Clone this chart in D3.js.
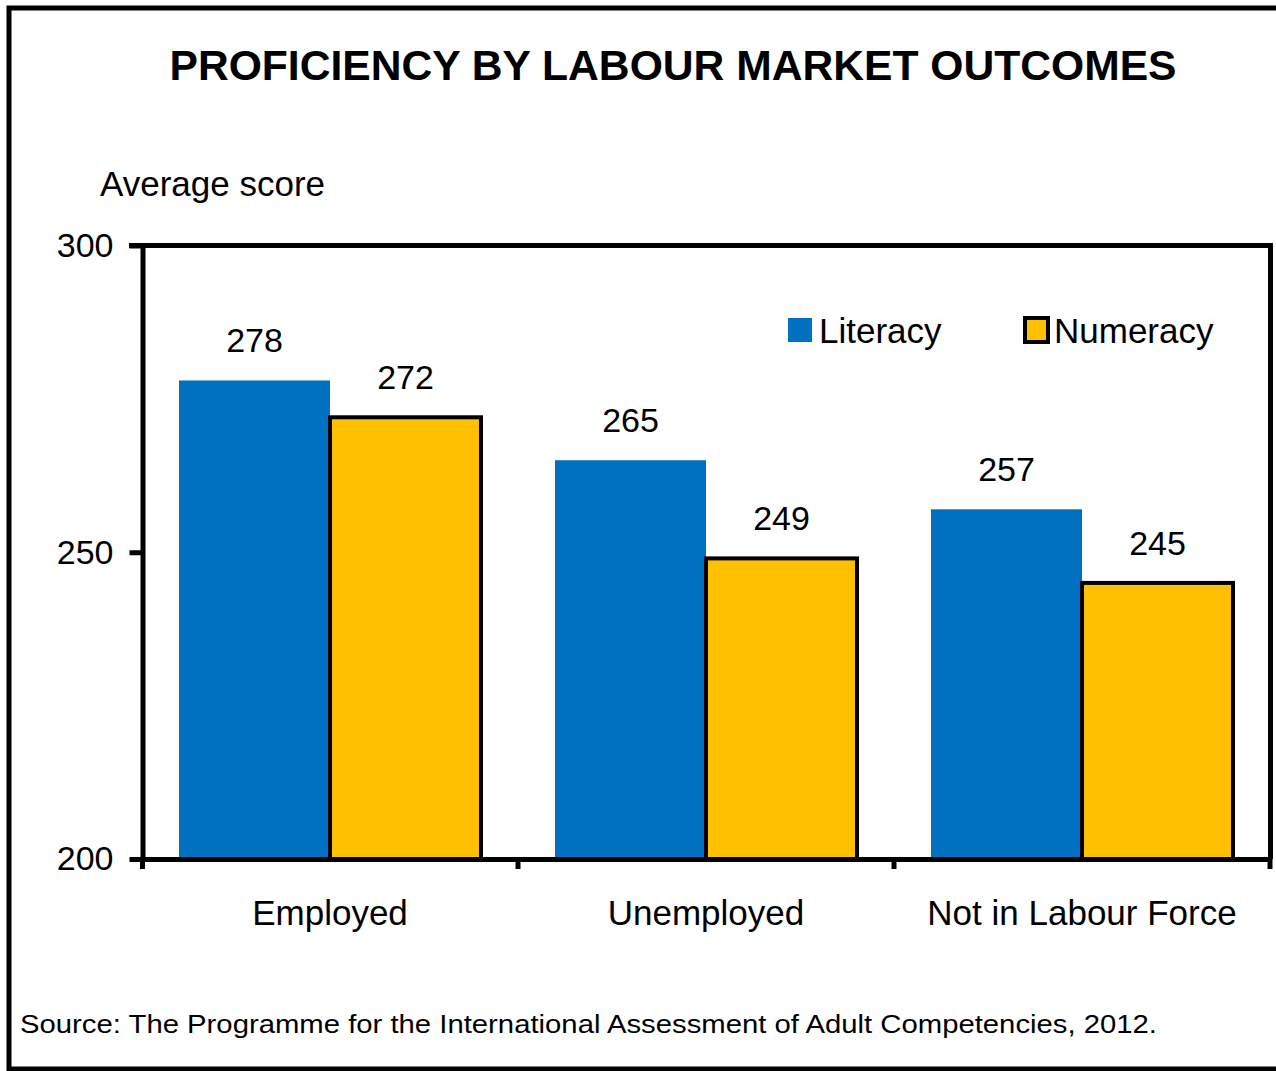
<!DOCTYPE html>
<html lang="en">
<head>
    <meta charset="UTF-8">
    <title>Proficiency by Labour Market Outcomes</title>
    <script src="https://d3js.org/d3.v7.min.js" charset="utf-8"></script>
    <style>
        body { margin: 0; background: #fff; }
        svg { display: block; font-family: 'Liberation Sans', Arial, sans-serif; }
    </style>
</head>
<body>
    <div id="chart"></div>
    <script>

    // data
    var categories = ['Employed', 'Unemployed', 'Not in Labour Force'];
    var seriesNames = ['Literacy', 'Numeracy'];
    var literacy = [278, 265, 257];
    var numeracy = [272, 249, 245];
    var yTicks = [200, 250, 300];

    var seriesColors = { 'Literacy': '#0070C0', 'Numeracy': '#FFC000' };

    var svgWidth = 1276;
    var svgHeight = 1071;

    var svg = d3.select('#chart')
        .append('svg')
        .attr('width', svgWidth)
        .attr('height', svgHeight);

    // outer frame (right edge falls off the picture)
    svg.append('rect')
        .attr('x', 9)
        .attr('y', 8)
        .attr('width', 1300)
        .attr('height', 1061)
        .attr('fill', 'none')
        .attr('stroke', '#000')
        .attr('stroke-width', 5);

    // title
    svg.append('text')
        .attr('x', 673)
        .attr('y', 80)
        .attr('text-anchor', 'middle')
        .style('font-size', '42px')
        .style('font-weight', 'bold')
        .attr('textLength', 1007)
        .attr('lengthAdjust', 'spacingAndGlyphs')
        .text('PROFICIENCY BY LABOUR MARKET OUTCOMES');

    svg.append('text')
        .attr('x', 100)
        .attr('y', 196)
        .style('font-size', '35px')
        .text('Average score');

    // scales
    var x0 = d3.scaleBand()
        .domain(categories)
        .range([142, 1270])
        .padding(0);

    var x1 = d3.scaleBand()
        .domain(seriesNames)
        .range([0, x0.bandwidth()])
        .paddingInner(0)
        .paddingOuter(0.245);

    var y = d3.scaleLinear()
        .domain([200, 300])
        .range([859, 245.5]);

    var rows = categories.map(function(c, i) {
        return { category: c, values: [
            { key: 'Literacy', value: literacy[i] },
            { key: 'Numeracy', value: numeracy[i] }
        ]};
    });

    var g = svg.append('g');

    // bars
    var groups = g.selectAll('.group')
        .data(rows)
        .enter()
        .append('g')
        .attr('class', 'group')
        .attr('transform', function(d) { return 'translate(' + x0(d.category) + ',0)'; });

    groups.selectAll('rect')
        .data(function(d) { return d.values; })
        .enter()
        .append('rect')
        .attr('x', function(d) { return x1(d.key); })
        .attr('y', function(d) { return y(d.value); })
        .attr('width', x1.bandwidth())
        .attr('height', function(d) { return y(200) - y(d.value); })
        .attr('fill', function(d) { return seriesColors[d.key]; })
        .attr('stroke', function(d) { return d.key === 'Numeracy' ? '#000' : 'none'; })
        .attr('stroke-width', 4);

    // value labels
    groups.selectAll('.label')
        .data(function(d) { return d.values; })
        .enter()
        .append('text')
        .attr('class', 'label')
        .attr('x', function(d) { return x1(d.key) + x1.bandwidth() / 2; })
        .attr('y', function(d) { return y(d.value) - 28; })
        .attr('text-anchor', 'middle')
        .style('font-size', '34px')
        .text(function(d) { return d.value; });

    // plot frame: top and right
    g.append('line')
        .attr('x1', 129).attr('x2', 1273)
        .attr('y1', y(300)).attr('y2', y(300))
        .attr('stroke', '#000').attr('stroke-width', 5);
    g.append('line')
        .attr('x1', 1270.5).attr('x2', 1270.5)
        .attr('y1', y(300)).attr('y2', y(200))
        .attr('stroke', '#000').attr('stroke-width', 5);

    // y axis
    var yAxis = d3.axisLeft(y)
        .tickValues(yTicks)
        .tickSize(13)
        .tickSizeOuter(0)
        .tickPadding(16);

    var yG = g.append('g')
        .attr('transform', 'translate(142.5,0)')
        .call(yAxis);
    yG.select('.domain').attr('stroke-width', 5);
    yG.selectAll('.tick line').attr('stroke-width', 5);
    yG.selectAll('.tick text')
        .style('font-size', '34px')
        .style('font-family', "'Liberation Sans', Arial, sans-serif")
        .attr('fill', '#000');

    // x axis: labels centered, ticks at category boundaries
    var xAxis = d3.axisBottom(x0)
        .tickSize(0)
        .tickSizeOuter(0)
        .tickPadding(41);

    var xG = g.append('g')
        .attr('transform', 'translate(0,' + y(200) + ')')
        .call(xAxis);
    xG.select('.domain').attr('stroke-width', 5);
    xG.selectAll('.tick text')
        .style('font-size', '35px')
        .style('font-family', "'Liberation Sans', Arial, sans-serif")
        .attr('fill', '#000');

    var bounds = categories.map(function(c) { return x0(c); }).concat([x0.range()[1]]);
    xG.selectAll('.bound')
        .data(bounds)
        .enter()
        .append('line')
        .attr('class', 'bound')
        .attr('x1', function(d, i) { return i === 0 ? d + 0.5 : d; })
        .attr('x2', function(d, i) { return i === 0 ? d + 0.5 : d; })
        .attr('y1', 0)
        .attr('y2', 10)
        .attr('stroke', '#000')
        .attr('stroke-width', 5);

    // legend
    var legend = g.append('g');
    var legendX = { 'Literacy': 788, 'Numeracy': 1023 };

    legend.selectAll('rect')
        .data(seriesNames)
        .enter()
        .append('rect')
        .attr('x', function(d) { return d === 'Numeracy' ? legendX[d] + 2 : legendX[d]; })
        .attr('y', 318)
        .attr('width', function(d) { return d === 'Numeracy' ? 23 : 24; })
        .attr('height', 24)
        .attr('fill', function(d) { return seriesColors[d]; })
        .attr('stroke', function(d) { return d === 'Numeracy' ? '#000' : 'none'; })
        .attr('stroke-width', 4);

    legend.selectAll('text')
        .data(seriesNames)
        .enter()
        .append('text')
        .attr('x', function(d) { return legendX[d] + 31; })
        .attr('y', 343)
        .style('font-size', '35px')
        .text(function(d) { return d; });

    // source note
    svg.append('text')
        .attr('x', 20)
        .attr('y', 1033)
        .style('font-size', '26px')
        .attr('textLength', 1137)
        .attr('lengthAdjust', 'spacingAndGlyphs')
        .text('Source: The Programme for the International  Assessment of Adult Competencies, 2012.');

    </script>
</body>
</html>
